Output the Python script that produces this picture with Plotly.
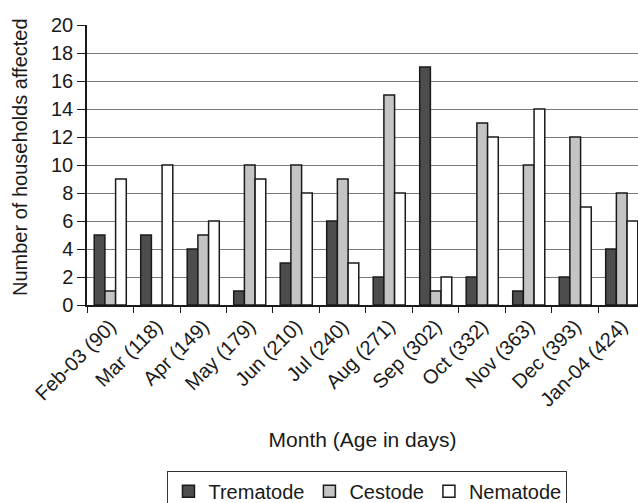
import plotly.graph_objects as go

# data
months = ["Feb-03 (90)", "Mar (118)", "Apr (149)", "May (179)", "Jun (210)", "Jul (240)",
          "Aug (271)", "Sep (302)", "Oct (332)", "Nov (363)", "Dec (393)", "Jan-04 (424)"]
trematode = [5, 5, 4, 1, 3, 6, 2, 17, 2, 1, 2, 4]
cestode = [1, 0, 5, 10, 10, 9, 15, 1, 13, 10, 12, 8]
nematode = [9, 10, 6, 9, 8, 3, 8, 2, 12, 14, 7, 6]

series = [
    ("Trematode", trematode, "#4d4d4d"),
    ("Cestode", cestode, "#c4c4c4"),
    ("Nematode", nematode, "#ffffff"),
]

fig = go.Figure()
for name, vals, col in series:
    fig.add_trace(go.Bar(
        x=months, y=vals, name=name,
        marker=dict(color=col, line=dict(color="#1a1a1a", width=1.5)),
    ))

fig.update_layout(
    width=638, height=503,
    margin=dict(l=87, r=0, t=25, b=198, autoexpand=False),
    paper_bgcolor="white", plot_bgcolor="white",
    font=dict(family="Liberation Sans", size=20, color="#1a1a1a"),
    barmode="group", bargap=0.31, bargroupgap=0,
    showlegend=True,
    legend=dict(
        orientation="h", x=0.509, xanchor="center", y=-0.592, yanchor="top",
        bordercolor="#333333", borderwidth=1, font=dict(size=20),
        itemwidth=30,
    ),
    xaxis=dict(
        title=dict(text="Month (Age in days)", standoff=22, font=dict(size=21)),
        automargin=False, range=[-0.5, 11.35],
        tickangle=-45, showline=True, linecolor="#1a1a1a", linewidth=1.5,
        ticks="outside", tickson="boundaries", ticklen=6, tickcolor="#1a1a1a",
        showgrid=False,
    ),
    yaxis=dict(
        automargin=False,
        range=[0, 20], dtick=2, showline=True, linecolor="#1a1a1a", linewidth=1.5,
        ticks="outside", ticklen=8, tickcolor="#1a1a1a",
        showgrid=True, gridcolor="#7a7a7a", gridwidth=1, zeroline=False,
    ),
    annotations=[dict(
        text="Number of households affected", textangle=-90,
        xref="paper", yref="paper", x=-0.1216, y=0.5286,
        xanchor="center", yanchor="middle", showarrow=False,
        font=dict(size=20),
    )],
)

# drop the browser's default 8px body margin so the figure sits at the page corner
fig.write_html("out.html", config={"displayModeBar": False},
               post_script="document.body.style.margin='0';")
